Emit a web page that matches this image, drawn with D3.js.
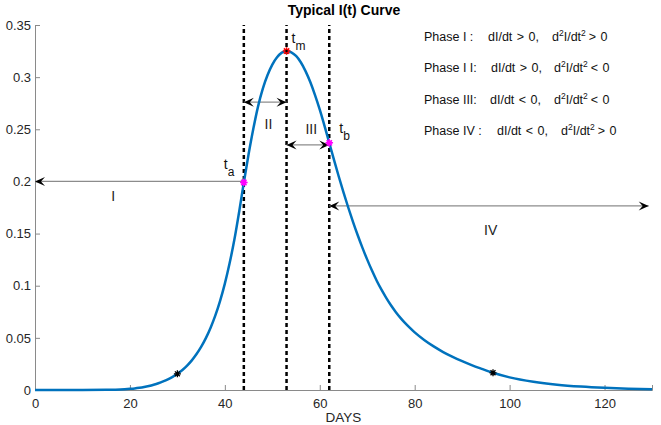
<!DOCTYPE html>
<html><head><meta charset="utf-8">
<script src="https://cdn.jsdelivr.net/npm/d3@7"></script>
<style>
body{margin:0;background:#fff;}
text{font-family:"Liberation Sans",Arial,Helvetica,sans-serif;}
</style></head>
<body><svg id="chart" width="661" height="425"></svg>
<script>
// ---- data ----
const days = [0,10,15,18,20,21,22,23,24,25,26,27,28,29,30,31,32,33,34,35,36,37,38,39,40,41,42,43,44,45,46,47,48,49,50,51,52,53,54,55,56,57,58,59,60,61,62,63,64,65,66,67,68,69,70,71,72,73,74,75,76,77,78,79,80,82,84,86,88,90,92,94,96.5,100,105,110,115,120,125,130];
const infected = [0,0.00003,0.0002,0.0005,0.0011,0.0015,0.0021,0.0029,0.0039,0.0051,0.0065,0.0082,0.0102,0.0126,0.0155,0.019,0.0232,0.0282,0.0342,0.0413,0.0497,0.0597,0.0715,0.0855,0.102,0.1215,0.144,0.1705,0.199,0.226,0.2505,0.272,0.289,0.302,0.312,0.319,0.3235,0.325,0.3238,0.3203,0.3143,0.3058,0.2953,0.2828,0.2688,0.2533,0.237,0.2207,0.2047,0.1895,0.175,0.1613,0.1484,0.1363,0.125,0.1145,0.1048,0.0962,0.0884,0.0813,0.0749,0.0692,0.0641,0.0595,0.0552,0.048,0.0418,0.0364,0.0318,0.0277,0.0239,0.0205,0.0165,0.0121,0.0079,0.0051,0.0033,0.0021,0.0013,0.0008];
const phaseLines = [44, 53, 62];          // t_a, t_m, t_b
const keyPoints = [
  {t:44, v:0.199, color:"#ff00ff", label:"t", sub:"a"},
  {t:53, v:0.325, color:"#ff0000", label:"t", sub:"m"},
  {t:62, v:0.237, color:"#ff00ff", label:"t", sub:"b"}
];
const starPoints = [{t:30, v:0.0155}, {t:96.5, v:0.0165}];
const phaseArrows = [
  {name:"I",   x0:44, x1:0,   y:0.2,   startHead:false, lx:16.5, ly:0.185},
  {name:"II",  x0:44, x1:53,  y:0.276, startHead:true,  lx:49.2, ly:0.254},
  {name:"III", x0:53, x1:62,  y:0.235, startHead:true,  lx:58.2, ly:0.249},
  {name:"IV",  x0:62, x1:129.3, y:0.1765, startHead:true, lx:96, ly:0.152}
];
const phaseLabel = ["Phase I :", "Phase I I:", "Phase III:", "Phase IV :"];
const firstDeriv = ["dI/dt > 0,", "dI/dt > 0,", "dI/dt < 0,", "dI/dt < 0,"];
const secondSign = ["> 0", "< 0", "< 0", "> 0"];
const xTicks = [0,20,40,60,80,100,120];
const yTicks = [0,0.05,0.1,0.15,0.2,0.25,0.3,0.35];

// ---- layout ----
const svg = d3.select("#chart");
const m = {l:35, r:9, t:25, b:35};
const W = 661, H = 425;
const x = d3.scaleLinear().domain([0,130]).range([m.l, W-m.r]);
const y = d3.scaleLinear().domain([0,0.35]).range([H-m.b, m.t]);

const axisColor = "#8a8a8a";
const textColor = "#262626";

// axes
const xAxis = svg.append("g").attr("transform",`translate(0,${y(0)})`)
  .call(d3.axisBottom(x).tickValues(xTicks).tickSize(-5).tickPadding(9).tickFormat(d3.format("d")));
const yAxis = svg.append("g").attr("transform",`translate(${x(0)},0)`)
  .call(d3.axisLeft(y).tickValues(yTicks).tickSize(-5).tickPadding(4).tickFormat(d=>d===0?"0":String(+d.toFixed(2))));
[xAxis,yAxis].forEach(g=>{
  g.selectAll("path").attr("stroke",axisColor).attr("stroke-width",1);
  g.selectAll("line").attr("stroke",axisColor);
  g.selectAll("text").attr("fill",textColor).style("font-size","13px");
});

// arrowhead marker
const defs = svg.append("defs");
defs.append("marker").attr("id","ah").attr("viewBox","-12 -6 14 12")
  .attr("refX",0).attr("refY",0).attr("markerWidth",14).attr("markerHeight",12)
  .attr("markerUnits","userSpaceOnUse").attr("orient","auto-start-reverse")
  .append("path").attr("d","M0,0 L-10,-4.5 L-6,0 L-10,4.5 Z").attr("fill","#000");

// dashed phase boundaries
svg.append("g").selectAll("line").data(phaseLines).join("line")
  .attr("x1",d=>x(d)).attr("x2",d=>x(d)).attr("y1",y(0)).attr("y2",y(0.35))
  .attr("stroke","#000").attr("stroke-width",2.5).attr("stroke-dasharray","4,3");

// phase arrows
svg.append("g").selectAll("line").data(phaseArrows).join("line")
  .attr("x1",d=>x(d.x0)).attr("x2",d=>x(d.x1)).attr("y1",d=>y(d.y)).attr("y2",d=>y(d.y))
  .attr("stroke","#8c8c8c").attr("stroke-width",1.2)
  .attr("marker-end","url(#ah)")
  .attr("marker-start",d=>d.startHead?"url(#ah)":null);

svg.append("g").selectAll("text").data(phaseArrows).join("text")
  .attr("x",d=>x(d.lx)).attr("y",d=>y(d.ly)).attr("text-anchor","middle")
  .attr("dominant-baseline","middle").style("font-size","14px").attr("fill","#222")
  .text(d=>d.name);

// curve
svg.append("path").datum(days.map((d,i)=>[d,infected[i]]))
  .attr("d", d3.line().x(d=>x(d[0])).y(d=>y(d[1])).curve(d3.curveMonotoneX))
  .attr("fill","none").attr("stroke","#0072BD").attr("stroke-width",2.5);

// asterisk marker
function star(g, cx, cy, r, color, sw){
  const p = [];
  for(let k=0;k<4;k++){
    const a = k*Math.PI/4;
    p.push(`M${cx-r*Math.cos(a)},${cy-r*Math.sin(a)}L${cx+r*Math.cos(a)},${cy+r*Math.sin(a)}`);
  }
  g.append("path").attr("d",p.join("")).attr("stroke",color).attr("stroke-width",sw).attr("fill","none");
}
const mk = svg.append("g");
starPoints.forEach(p=>star(mk, x(p.t), y(p.v), 3.5, "#000", 1.3));
keyPoints.forEach(p=>{
  if(p.color==="#ff00ff"){
    mk.append("circle").attr("cx",x(p.t)).attr("cy",y(p.v)).attr("r",2.6).attr("fill","#ff00ff");
    star(mk, x(p.t), y(p.v), 3.8, "#ff00ff", 1.5);
  } else {
    star(mk, x(p.t), y(p.v), 3.8, "#ff0000", 1.5);
    mk.append("circle").attr("cx",x(p.t)).attr("cy",y(p.v)).attr("r",1.2).attr("fill","#000");
  }
});

// key point labels
const labOff = {a:[-20,-13], m:[5,-8], b:[10,-10]};
keyPoints.forEach(p=>{
  const o = labOff[p.sub];
  const t = svg.append("text").attr("x",x(p.t)+o[0]).attr("y",y(p.v)+o[1])
    .style("font-size","14px").attr("fill","#111");
  t.append("tspan").text(p.label);
  t.append("tspan").attr("dy",7).style("font-size","12px").text(p.sub);
});

// phase description text
const col2x = [488, 491, 490, 497];
const col3x = [552, 554, 554, 561];
const pt = svg.append("g").style("font-size","12.5px").attr("fill","#111");
phaseLabel.forEach((lab,i)=>{
  const yy = 41 + i*31.3;
  pt.append("text").attr("x",424).attr("y",yy).text(lab);
  pt.append("text").attr("x",col2x[i]).attr("y",yy).attr("word-spacing","1px").text(firstDeriv[i]);
  const t = pt.append("text").attr("x",col3x[i]).attr("y",yy);
  t.append("tspan").text("d");
  t.append("tspan").attr("dy",-5).style("font-size","8.5px").text("2");
  t.append("tspan").attr("dy",5).text("I/dt");
  t.append("tspan").attr("dy",-5).style("font-size","8.5px").text("2");
  t.append("tspan").attr("dy",5).attr("dx",3).attr("word-spacing","1px").text(secondSign[i]);
});

// title & x label
svg.append("text").attr("x",344).attr("y",15).attr("text-anchor","middle")
  .style("font-size","14px").style("font-weight","bold").attr("fill","#000").text("Typical I(t) Curve");
svg.append("text").attr("x",x(65)).attr("y",422).attr("text-anchor","middle")
  .style("font-size","13.5px").attr("fill",textColor).text("DAYS");
</script></body></html>
